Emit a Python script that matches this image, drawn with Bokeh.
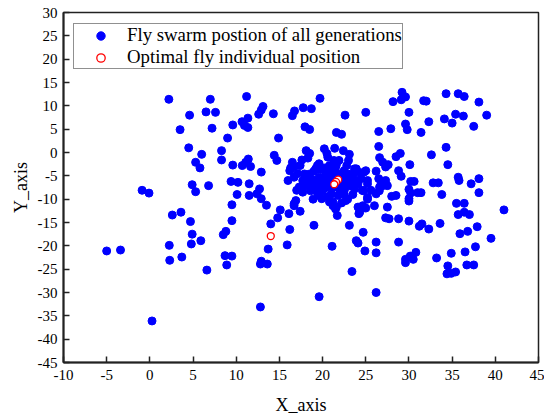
from bokeh.plotting import figure
from bokeh.models import Range1d, FixedTicker
from bokeh.embed import file_html
from bokeh.resources import INLINE

# Fly swarm positions of all generations
swarm_x = [
    2.2, 3.5, 4.6, 6.5, 7.0, 7.2, 7.6, 9.0, 9.6, 10.67, 10.95, 11.2, 11.35, 11.35, 12.6, 12.9, 13.1, 14.3, 14.9,
    16.5, 16.75, 17.76, 17.96, 18.5, 18.7, 19.7, 21.6, 22.2, 22.6, 25.0, 26.5, 27.9, 28.15, 29.1, 29.2, 29.6, 29.6,
    29.8, 30.0, 31.4, 31.7, 32.0, 32.3, 34.1, 34.3, 35.0, 35.4, 35.7, 36.3, 36.4, 37.5, 38.1, 39.0,
    4.5, 6.0, 8.3, 8.3, 5.3, 5.8, 9.6, 9.4, 10.2, -0.9, -0.1, 4.9, 5.3, 6.8, 10.1, 9.5,
    21.4, 22.4, 20.2, 20.5, 18.1, 18.5, 18.3, 23.1, 23.0, 21.3, 14.4, 14.7, 17.6, 16.5, 16.7, 16.3, 17.4, 11.4,
    11.1, 10.7, 11.66, 12.9, 16.2, 16.0, 16.7, 17.9, 17.7, 18.1, 17.3, 17.7, 11.5, 11.5, 12.7, 12.4, 12.9, 13.5,
    26.5, 34.3, 32.6, 29.0, 28.5, 26.6, 26.96, 27.6, 27.3, 30.1, 34.5, 28.8, 29.1, 26.2, 26.5, 27.3, 26.96, 27.5,
    26.57, 26.2, 30.2, 30.6, 32.8, 33.4, 35.7, 35.8, 37.2, 38.1, 38.1, 30.0, 30.2, 31.0, 31.4, 30.0, 30.0, 28.0,
    28.5, 33.8, 35.5, 36.4, 27.5,
    35.7, 36.4, 37.0, 41.0, 27.3, 27.7, 28.8, 30.0, 31.2, 31.5, 32.3, 33.6, 36.8, 35.9, 37.9, 39.5, 37.7, 36.5,
    34.9, 33.2, 34.5, 34.4, 34.9, 35.4, 36.7, 37.5, 28.8, 30.8, 30.15, 29.6, 30.5, 29.6, 26.2, 26.2, 26.2,
    15.1, 16.1, 16.7, 17.4, 14.8, 14.0, 16.2, 15.9, 13.7, 12.9, 12.8, 13.6, 12.8, 19.0, 21.1, 19.6, 23.4, 23.1,
    24.2, 25.0, 24.7, 23.9, 24.1, 24.9, 21.5, 21.7, 21.2,
    2.6, 3.6, 4.7, 4.9, 4.8, 5.9, 2.25, 2.3, 3.7, -5.0, -3.4, 0.25, 6.6, 8.5, 8.8, 8.7, 9.5, 8.9, 9.5,
    18.9, 16.9, 16.7, 21.2, 22.7, 22.5, 17.1, 17.0,
    18.5, 18.1, 18.6, 19.2, 19.6, 20.8, 20.6, 21.9, 22.5, 23.3, 23.7, 24.1, 25.2, 23.3, 23.7, 24.7, 25.2, 26.0,
    24.1, 22.9, 21.6, 20.8, 19.6, 18.9, 18.6, 19.2, 19.4,
    20.4, 21.2, 21.9, 20.0, 20.8, 21.6, 22.3, 22.7, 20.4, 21.2, 21.9, 22.5, 20.0, 21.0, 21.8, 19.6, 22.1, 21.6,
    22.9, 21.3, 21.8, 21.5, 21.0, 22.0, 21.2, 20.7, 22.4,
    23.9, 24.8, 25.0, 24.45, 24.1, 25.2, 24.6, 25.6, 25.2, 24.65, 24.3, 26.8, 26.6,
    19.0, 19.8, 20.3, 21.5, 22.8, 18.8, 19.3, 19.8, 20.2, 22.6, 23.0, 23.6, 22.0, 20.6, 19.9, 23.5, 22.2, 20.9,
    21.6, 19.4,
]
swarm_y = [
    11.4, 4.9, 8.0, 8.7, 11.4, 5.2, 8.6, 3.1, 5.9, 6.6, 5.8, 12.0, 7.36, 5.36, 8.2, 9.1, 9.86, 8.3, 3.1,
    7.9, 8.9, 9.6, 5.5, 4.93, 9.4, 11.6, 4.3, 3.9, 8.0, 8.6, 4.5, 5.1, 10.9, 11.3, 12.9, 11.9, 6.1,
    4.9, 8.6, 4.3, 11.1, 11.0, 6.6, 7.2, 12.6, 6.3, 8.2, 12.6, 7.8, 12.0, 5.6, 10.8, 8.0,
    1.0, -0.4, 0.4, -1.6, -2.1, -3.3, -2.7, -6.2, -6.4, -8.1, -8.7, -6.9, -8.4, -7.1, -9.0, -11.2,
    0.9, 0.4, 0.8, -0.2, 0.4, -0.2, -1.2, -0.4, -1.7, -1.7, -0.6, -1.7, -1.6, -2.1, -3.0, -3.3, -2.8, -1.4,
    -2.1, -2.8, -3.0, -4.2, -3.9, -6.0, -5.3, -4.6, -6.0, -7.1, -7.4, -8.5, -6.7, -9.2, -7.8, -8.85, -9.9, -11.3,
    1.3, 1.1, -0.5, -0.2, -0.9, -1.1, -2.07, -2.6, -3.1, -2.6, -2.6, -3.9, -5.1, -4.0, -5.6, -6.0, -7.1, -7.1,
    -8.2, -8.85, -6.2, -6.2, -6.5, -6.5, -5.3, -6.0, -6.7, -5.6, -8.6, -7.9, -8.7, -8.6, -8.6, -9.9, -10.4, -9.4,
    -9.2, -9.0, -10.9, -10.9, -11.7,
    -13.3, -12.8, -13.3, -12.3, -14.0, -14.2, -14.2, -14.7, -15.8, -15.3, -16.4, -15.2, -16.9, -17.4, -15.9, -18.4, -20.2, -21.3,
    -21.6, -22.6, -24.3, -26.0, -25.9, -25.6, -24.1, -24.1, -19.2, -21.4, -22.2, -22.9, -22.9, -23.6, -19.2, -21.5, -30.0,
    -12.3, -13.1, -11.4, -12.6, -14.0, -15.3, -16.5, -19.8, -20.7, -23.3, -23.9, -23.9, -33.1, -15.6, -20.1, -30.9, -25.5, -15.6,
    -13.1, -11.9, -17.1, -18.9, -19.4, -21.1, -12.1, -13.5, -11.4,
    -13.4, -12.8, -14.8, -17.5, -19.6, -18.9, -19.9, -23.1, -22.4, -21.1, -20.9, -36.1, -25.2, -17.6, -16.9, -22.1, -22.2, -24.1, -14.6,
    -6.7, -10.3, -11.0, -10.6, -10.3, -8.9, -4.5, -8.1,
    -4.6, -5.3, -6.4, -3.5, -2.4, -2.8, -1.0, -1.7, -3.86, -4.6, -3.5, -4.2, -6.0, -6.4, -7.8, -8.2, -10.0, -11.4,
    -11.7, -10.0, -11.7, -10.6, -9.2, -10.0, -8.2, -7.5, -2.8,
    -4.6, -4.2, -4.6, -6.0, -6.0, -5.7, -5.7, -6.7, -7.5, -7.5, -7.5, -8.2, -8.2, -8.9, -9.2, -5.3, -6.4, -6.7,
    -5.3, -6.2, -6.3, -5.5, -5.0, -7.0, -6.8, -6.5, -6.0,
    -3.5, -4.2, -3.9, -5.6, -6.7, -6.7, -8.1, -8.1, -9.6, -11.4, -12.8, -6.7, -7.4,
    -4.0, -3.6, -3.3, -3.2, -2.8, -5.8, -6.3, -7.0, -5.3, -4.4, -7.2, -5.6, -8.5, -9.5, -9.9, -9.0, -10.8, -3.6,
    -2.6, -8.6,
]

# Optimal fly individual positions
opt_x = [14.0, 21.8, 21.55, 21.35]
opt_y = [-17.9, -5.8, -6.3, -6.8]

x_ticks = [-10, -5, 0, 5, 10, 15, 20, 25, 30, 35, 40, 45]
y_ticks = [-45, -40, -35, -30, -25, -20, -15, -10, -5, 0, 5, 10, 15, 20, 25, 30]
x_tick_labels = ["-10", "-5", "0", "5", "10", "15", "20", "25", "30", "35", "40", "45"]
y_tick_labels = ["-45", "-40", "-35", "-30", "-25", "-20", "-15", "-10", "-5", "0", "5", "10", "15", "20", "25", "30"]

FONT = "Liberation Serif"

p = figure(width=544, height=420, output_backend="svg", toolbar_location=None,
           x_range=Range1d(-10, 45), y_range=Range1d(-45, 30),
           min_border_left=63, min_border_right=6, min_border_top=12, min_border_bottom=58)

p.xgrid.visible = False
p.ygrid.visible = False
p.outline_line_color = "#222222"
p.outline_line_width = 1.5
p.background_fill_color = "white"
p.border_fill_color = "white"

p.scatter(swarm_x, swarm_y, size=8, color="#0000ff",
          legend_label="Fly swarm postion of all generations")
p.scatter(opt_x, opt_y, size=7, fill_color="white", line_color="#ff0000", line_width=1.3,
          legend_label="Optimal fly individual position")

p.xaxis.ticker = FixedTicker(ticks=x_ticks)
p.yaxis.ticker = FixedTicker(ticks=y_ticks)
p.xaxis.major_label_overrides = dict(zip(x_ticks, x_tick_labels))
p.yaxis.major_label_overrides = dict(zip(y_ticks, y_tick_labels))
p.axis.axis_line_color = "#222222"
p.axis.axis_line_width = 2
p.axis.major_tick_line_color = "#222222"
p.axis.major_tick_line_width = 1.5
p.axis.major_tick_in = 6
p.axis.major_tick_out = 0
p.axis.minor_tick_line_color = None
p.axis.major_label_text_font = FONT
p.axis.major_label_text_font_size = "15px"
p.axis.major_label_text_color = "black"
p.axis.axis_label_text_font = FONT
p.axis.axis_label_text_font_size = "18px"
p.axis.axis_label_text_font_style = "normal"
p.axis.axis_label_text_color = "black"

p.xaxis.axis_label = "X_axis"
p.yaxis.axis_label = "Y_axis"
p.xaxis.major_label_standoff = 7
p.xaxis.axis_label_standoff = 12
p.yaxis.major_label_standoff = 6
p.yaxis.axis_label_standoff = 4

leg = p.legend[0]
leg.location = (10, 293)
leg.border_line_color = "#222222"
leg.border_line_width = 1
leg.padding = 0
leg.spacing = 0
leg.margin = 0
leg.glyph_width = 53
leg.glyph_height = 21
leg.label_height = 21
leg.label_standoff = 0
leg.label_text_font = FONT
leg.label_text_font_size = "18.8px"
leg.label_text_line_height = 1.0
leg.label_text_color = "black"
leg.background_fill_alpha = 1

open("out.html", "w").write(file_html(p, INLINE))
